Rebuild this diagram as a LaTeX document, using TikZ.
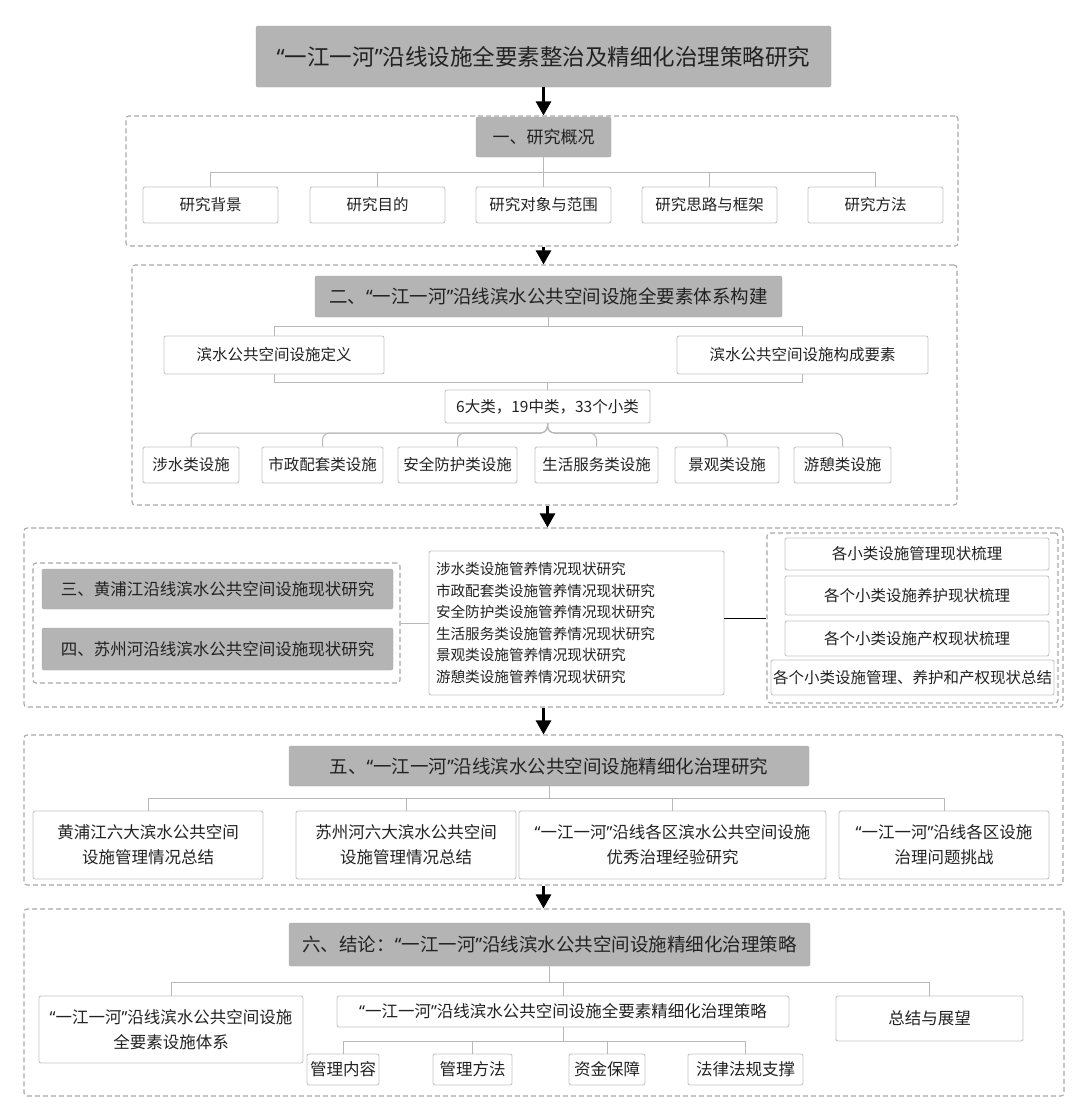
\documentclass[tikz,border=0pt]{standalone}
\usepackage{fontspec}
\setmainfont{Noto Sans CJK SC}
\newfontfamily\quotefont{Noto Sans}
\newcommand\lqt{{\quotefont “}}
\newcommand\rqt{{\quotefont ”}}
\usetikzlibrary{positioning,arrows.meta}
\usepackage{xcolor}
\definecolor{hdrgray}{HTML}{B4B4B4}
\definecolor{boxline}{HTML}{C4C4C4}
\definecolor{dashgray}{HTML}{A8A8A8}
\definecolor{linkgray}{HTML}{B8B8B8}
\definecolor{inkdark}{HTML}{222222}

\begin{document}
\begin{tikzpicture}[
    x=1pt, y=-1pt,
    every node/.style={text=inkdark, inner sep=0pt, align=center},
    hdr/.style={fill=hdrgray, draw=hdrgray!92!black, rounded corners=2pt, font=\fontsize{18.5}{22}\selectfont},
    itm/.style={draw=boxline, fill=white, line width=0.9pt, rounded corners=2pt, font=\fontsize{15.5}{22}\selectfont},
    big/.style={font=\fontsize{16.5}{25}\selectfont},
    frm/.style={draw=dashgray, line width=1.1pt, dash pattern=on 5pt off 3pt, rounded corners=3pt},
    conn/.style={draw=linkgray, line width=1pt},
    darr/.style={line width=2.6pt, -{Triangle[width=15pt,length=14pt]}}
]
\useasboundingbox (0,0) rectangle (1080,1111);

% Title
\node[hdr, font=\fontsize{22.5}{26}\selectfont, minimum width=575pt, minimum height=61pt] (title) at (543.5,56.5) {\lqt 一江一河\rqt 沿线设施全要素整治及精细化治理策略研究};

% Part 1
\node[frm, minimum width=832pt, minimum height=130pt] (part1) at (542,181) {};
\node[hdr, font=\fontsize{17}{22}\selectfont, minimum width=135pt, minimum height=40pt] (ov) at (543.5,137) {一、研究概况};
\node[itm, minimum width=135pt, minimum height=36pt] (bg) at (210.5,205) {研究背景};
\node[itm, minimum width=135pt, minimum height=36pt] (aim) at (377.5,205) {研究目的};
\node[itm, minimum width=135pt, minimum height=36pt] (scope) at (543.5,205) {研究对象与范围};
\node[itm, minimum width=135pt, minimum height=36pt] (idea) at (709.5,205) {研究思路与框架};
\node[itm, minimum width=135pt, minimum height=36pt] (meth) at (875.5,205) {研究方法};
\coordinate (b1) at (0,172);
\foreach \n in {bg,aim,scope,idea,meth}
    \draw[conn] (ov.south) -- (ov.south |- b1) -| (\n.north);

% Part 2
\node[frm, minimum width=825pt, minimum height=240pt] (part2) at (544.5,385) {};
\node[hdr, minimum width=467pt, minimum height=41pt] (sys) at (548.5,296.5) {二、\lqt 一江一河\rqt 沿线滨水公共空间设施全要素体系构建};
\node[itm, minimum width=220pt, minimum height=38pt] (defn) at (274,355) {滨水公共空间设施定义};
\node[itm, minimum width=251pt, minimum height=38pt] (elem) at (802.5,355) {滨水公共空间设施构成要素};
\node[itm, minimum width=205pt, minimum height=33pt] (cnt) at (547.5,406.5) {6大类，19中类，33个小类};
\node[itm, minimum width=96pt, minimum height=36pt] (water) at (191,465) {涉水类设施};
\node[itm, minimum width=121pt, minimum height=36pt] (muni) at (322.5,465) {市政配套类设施};
\node[itm, minimum width=119pt, minimum height=36pt] (safe) at (457.5,465) {安全防护类设施};
\node[itm, minimum width=123pt, minimum height=36pt] (life) at (596.5,465) {生活服务类设施};
\node[itm, minimum width=104pt, minimum height=36pt] (land) at (727,465) {景观类设施};
\node[itm, minimum width=97pt, minimum height=36pt] (rest) at (842.5,465) {游憩类设施};
\coordinate (b2) at (0,326);
\coordinate (b3) at (0,382);
\coordinate (b4) at (0,433);
\draw[conn] (sys.south) -- (sys.south |- b2) -| (defn.north);
\draw[conn] (sys.south) -- (sys.south |- b2) -| (elem.north);
\draw[conn] (defn.south) |- (cnt.north |- b3) -- (cnt.north);
\draw[conn] (elem.south) |- (cnt.north |- b3);
\foreach \n in {water,muni,safe,life,land,rest}
    \draw[conn, rounded corners=7pt] (cnt.south) -- (cnt.south |- b4) -| (\n.north);

% Part 3 and 4
\node[frm, minimum width=1039pt, minimum height=179pt] (part3) at (543.5,617.5) {};
\node[frm, minimum width=367pt, minimum height=120pt] (left3) at (216.5,623) {};
\node[hdr, font=\fontsize{16.5}{22}\selectfont, minimum width=351pt, minimum height=40pt] (hpj) at (217.5,589) {三、黄浦江沿线滨水公共空间设施现状研究};
\node[hdr, font=\fontsize{16.5}{22}\selectfont, minimum width=351pt, minimum height=42pt] (szh) at (217.5,649) {四、苏州河沿线滨水公共空间设施现状研究};
\node[itm, font=\fontsize{14.6}{21.5}\selectfont, align=left, text width=281pt, inner xsep=7pt, minimum height=144pt] (mid) at (576.5,623) {涉水类设施管养情况现状研究\\
市政配套类设施管养情况现状研究\\
安全防护类设施管养情况现状研究\\
生活服务类设施管养情况现状研究\\
景观类设施管养情况现状研究\\
游憩类设施管养情况现状研究};
\node[frm, minimum width=291pt, minimum height=170pt] (right3) at (912.5,618) {};
\node[itm, minimum width=264pt, minimum height=32pt] (mng) at (917,554) {各小类设施管理现状梳理};
\node[itm, minimum width=264pt, minimum height=39pt] (care) at (917,595.5) {各个小类设施养护现状梳理};
\node[itm, minimum width=264pt, minimum height=35pt] (prop) at (917,638.5) {各个小类设施产权现状梳理};
\node[itm, minimum width=283pt, minimum height=35pt] (summ) at (912.5,677.5) {各个小类设施管理、养护和产权现状总结};
\draw[conn] (left3.east) -- (left3.east -| mid.west);
\draw[line width=1pt] (mid.east |- right3.west) -- (right3.west);

% Part 5
\node[frm, minimum width=1039pt, minimum height=150pt] (part5) at (543.5,810) {};
\node[hdr, minimum width=520pt, minimum height=40pt] (fine) at (549,766) {五、\lqt 一江一河\rqt 沿线滨水公共空间设施精细化治理研究};
\node[itm, big, minimum width=230pt, minimum height=68pt] (hpjsum) at (148,845) {黄浦江六大滨水公共空间\\设施管理情况总结};
\node[itm, big, minimum width=220pt, minimum height=68pt] (szhsum) at (406,845) {苏州河六大滨水公共空间\\设施管理情况总结};
\node[itm, big, minimum width=307pt, minimum height=68pt] (good) at (672.5,845) {\lqt 一江一河\rqt 沿线各区滨水公共空间设施\\优秀治理经验研究};
\node[itm, big, minimum width=210pt, minimum height=68pt] (chal) at (944,845) {\lqt 一江一河\rqt 沿线各区设施\\治理问题挑战};
\coordinate (b5) at (0,798);
\foreach \n in {hpjsum,szhsum,good,chal}
    \draw[conn] (fine.south) -- (fine.south |- b5) -| (\n.north);

% Part 6
\node[frm, minimum width=1040pt, minimum height=187pt] (part6) at (544,1002.5) {};
\node[hdr, minimum width=521pt, minimum height=43pt] (concl) at (549.5,944.5) {六、结论：\lqt 一江一河\rqt 沿线滨水公共空间设施精细化治理策略};
\node[itm, big, minimum width=264pt, minimum height=67pt] (facs) at (171,1029.5) {\lqt 一江一河\rqt 沿线滨水公共空间设施\\全要素设施体系};
\node[itm, big, minimum width=452pt, minimum height=31pt] (strat) at (563,1011.5) {\lqt 一江一河\rqt 沿线滨水公共空间设施全要素精细化治理策略};
\node[itm, big, minimum width=187pt, minimum height=45pt] (outl) at (929.5,1018.5) {总结与展望};
\node[itm, big, minimum width=72pt, minimum height=31pt] (cont) at (343,1069.5) {管理内容};
\node[itm, big, minimum width=79pt, minimum height=31pt] (way) at (472.5,1069.5) {管理方法};
\node[itm, big, minimum width=76pt, minimum height=31pt] (fund) at (607,1069.5) {资金保障};
\node[itm, big, minimum width=115pt, minimum height=31pt] (law) at (745.5,1069.5) {法律法规支撑};
\coordinate (b6) at (0,982);
\coordinate (b7) at (0,1041);
\foreach \n in {facs,strat,outl}
    \draw[conn] (concl.south) -- (concl.south |- b6) -| (\n.north);
\foreach \n in {cont,way,fund,law}
    \draw[conn] (strat.south) -- (strat.south |- b7) -| (\n.north);

% Arrows
\draw[darr] (title.south) -- (title.south |- part1.north);
\draw[darr] (ov.south |- part1.south) -- (ov.south |- part2.north);
\draw[darr] (cnt.south |- part2.south) -- (cnt.south |- part3.north);
\draw[darr] (ov.south |- part3.south) -- (ov.south |- part5.north);
\draw[darr] (ov.south |- part5.south) -- (ov.south |- part6.north);
\end{tikzpicture}
\end{document}
